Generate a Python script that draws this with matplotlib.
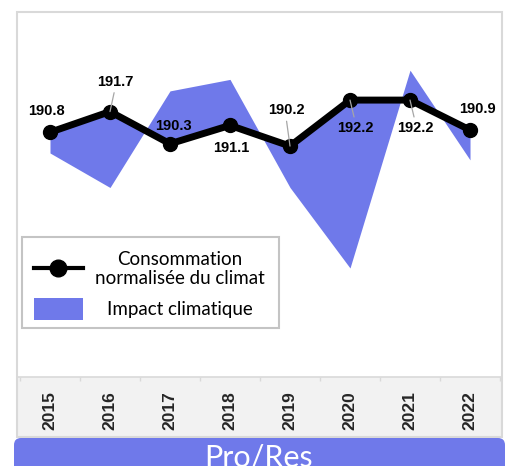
import numpy as np
import matplotlib
matplotlib.use('Agg')
from matplotlib import pyplot as plt
from matplotlib.patches import Rectangle, FancyBboxPatch
from matplotlib.lines import Line2D
from matplotlib.transforms import IdentityTransform

annees = ['2015', '2016', '2017', '2018', '2019', '2020', '2021', '2022']
conso_norm = [190.8, 191.7, 190.3, 191.1, 190.2, 192.2, 192.2, 190.9]
conso_reelle = [189.9, 188.4, 192.6, 193.1, 188.4, 184.9, 193.5, 189.6]

BLEU = '#6f79ea'
GRIS = '#d9d9d9'
W, H = 508, 466


def fx(px):
    return px / W


def fy(py):
    return 1 - py / H


fig = plt.figure(figsize=(W / 100, H / 100), dpi=100)

# bande grise des annees
fig.add_artist(Rectangle((fx(17), fy(437)), fx(502) - fx(17), fy(377) - fy(437),
                         transform=fig.transFigure, facecolor='#f2f2f2',
                         edgecolor='none', zorder=-1))

ax = fig.add_axes([fx(17), fy(377), fx(502) - fx(17), fy(12) - fy(377)])
x = np.arange(len(annees))

ax.fill_between(x, conso_norm, conso_reelle, color=BLEU, linewidth=0, zorder=1)
ax.plot(x, conso_norm, color='black', linewidth=5, marker='o', markersize=10,
        zorder=3)

ax.set_xlim(-0.55, 7.533)
ax.set_ylim(180.16, 196.03)
ax.set_yticks([])
ax.set_xticks(x)
ax.set_xticklabels(annees, rotation=90, fontsize=12.5, fontweight='bold',
                   family='Liberation Sans', color='#262626')
ax.tick_params(axis='x', which='major', length=0, pad=10)
ax.set_xticks(np.arange(-0.5, 8, 1), minor=True)
ax.tick_params(axis='x', which='minor', length=3, width=1, color=GRIS,
               direction='out')
for side in ['top', 'left', 'right']:
    ax.spines[side].set_visible(False)
ax.spines['bottom'].set_color(GRIS)
ax.spines['bottom'].set_linewidth(1.2)

# etiquettes de donnees (decalage en pixels, trait de rappel ou pas)
decalages = [(-4, 21, False), (5, 30, True), (3, 18, False), (1, -23, False),
             (-4, 36, True), (5, -28, True), (5, -28, True), (7, 21, False)]
for i, v in enumerate(conso_norm):
    dx, dy, rappel = decalages[i]
    props = None
    if rappel:
        props = dict(arrowstyle='-', color='#a6a6a6', lw=0.9, shrinkA=1,
                     shrinkB=0, relpos=(0.5, 0) if dy > 0 else (0.5, 1))
    ax.annotate(f'{v:.1f}', (x[i], v), xytext=(dx, dy),
                textcoords='offset pixels', ha='center', va='center',
                fontsize=10.5, fontweight='bold', family='Liberation Sans',
                arrowprops=props, zorder=5)

# cadre gris
fig.add_artist(Rectangle((fx(17), fy(437)), fx(502) - fx(17), fy(12) - fy(437),
                         transform=fig.transFigure, facecolor='none',
                         edgecolor=GRIS, linewidth=1.5, zorder=4))

# legende
fig.add_artist(Rectangle((fx(22), fy(328)), fx(279) - fx(22), fy(237) - fy(328),
                         transform=fig.transFigure, facecolor='white',
                         edgecolor='#c4c4c4', linewidth=1.5, zorder=6))
fig.add_artist(Line2D([fx(34), fx(83)], [fy(268), fy(268)], color='black',
                      linewidth=3, transform=fig.transFigure, zorder=7))
fig.add_artist(Line2D([fx(58)], [fy(268)], color='black', marker='o',
                      markersize=12, transform=fig.transFigure, zorder=7))
fig.add_artist(Rectangle((fx(34), fy(320)), fx(83) - fx(34), fy(298) - fy(320),
                         transform=fig.transFigure, facecolor=BLEU,
                         edgecolor='none', zorder=7))
fig.text(fx(180), fy(269), 'Consommation\nnormalisée du climat', ha='center',
         va='center', multialignment='center', fontsize=13.5, family='Lato',
         linespacing=1.1, zorder=7)
fig.text(fx(180), fy(310), 'Impact climatique', ha='center', va='center',
         fontsize=13.5, family='Lato', zorder=7)

# bandeau du bas
fig.add_artist(FancyBboxPatch((14, -12), 491, 466 - 438 + 12,
                              boxstyle='round,pad=0,rounding_size=7',
                              transform=IdentityTransform(), facecolor=BLEU,
                              edgecolor='none', zorder=8))
fig.text(fx(259), fy(458), 'Pro/Res', ha='center', va='center', color='white',
         fontsize=22, family='Lato', zorder=9)

fig.savefig('out.png', dpi=100)
